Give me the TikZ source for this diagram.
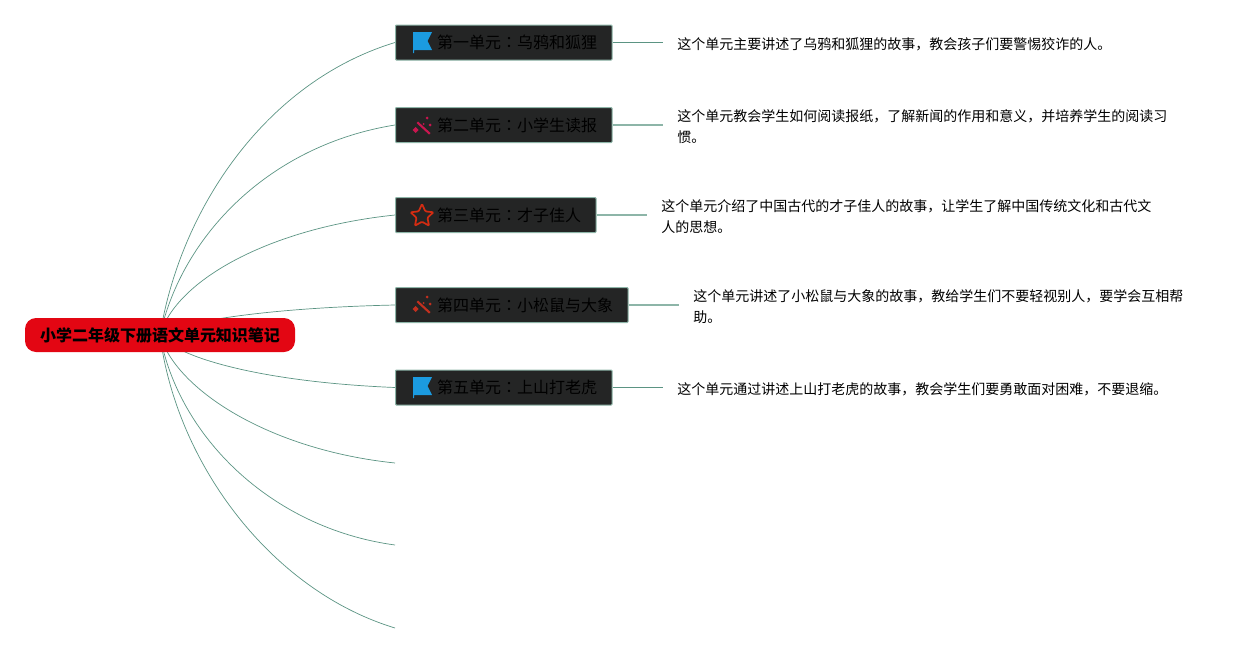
\documentclass[tikz,border=0pt]{standalone}
\usepackage{fontspec}
\setmainfont{Noto Sans CJK SC}
\newfontfamily\unitfont{Noto Sans CJK TC}
\usetikzlibrary{shapes.geometric, positioning, backgrounds}

\definecolor{linkgreen}{HTML}{5B9483}
\definecolor{linklight}{HTML}{8DB5A8}
\definecolor{boxdark}{HTML}{242525}
\definecolor{rootred}{HTML}{E30613}
\definecolor{flagblue}{HTML}{1B9BE0}
\definecolor{wandpink}{HTML}{C9164F}
\definecolor{wandred}{HTML}{C2301F}
\definecolor{starred}{HTML}{D32C12}

\newcommand{\unittext}[1]{\hspace*{26.5pt}\raisebox{-1.5pt}{#1}}

\tikzset{
    flagicon/.pic={
        \fill[flagblue] (-9.5,-9) -- (9.5,-9) -- (5,0) -- (9.5,9) -- (-8.5,9) -- (-8.5,12) -- (-9.5,12) -- cycle;
    },
    wandicon/.pic={
        \fill[#1] (-6,-3) -- (-4.5,-4.5) -- (8,7) -- (6.5,8.5) -- cycle;
        \fill[#1] (-10,4) -- (-7,1) -- (-4,4) -- (-7,7) -- cycle;
        \fill[#1] (4.5,-9.5) -- (6,-8) -- (4.5,-6.5) -- (3,-8) -- cycle;
        \fill[#1] (7.5,-2.5) -- (9,-1) -- (7.5,0.5) -- (6,-1) -- cycle;
        \fill[#1] (1,-3) -- (2,-2) -- (1,-1) -- (0,-2) -- cycle;
    },
    staricon/.pic={
        \node[star, star points=5, star point ratio=2.1, draw=starred, line width=1.7pt, inner sep=0pt, minimum size=24pt, rounded corners=1pt] (-shape) at (0,1) {};
    }
}

\begin{document}
\begin{tikzpicture}[x=1pt, y=-1pt,
    root/.style={draw=none, fill=rootred, rounded corners=11pt, minimum width=270pt, minimum height=34pt, inner sep=0pt, font=\fontsize{16}{20}\selectfont\bfseries},
    unit/.style={draw=linklight, fill=boxdark, line width=1pt, rounded corners=0.8pt, anchor=west, minimum height=35pt, inner xsep=15pt, inner ysep=0pt, text=black, font=\unitfont\fontsize{16}{20}\selectfont},
    desc/.style={align=left, inner xsep=14.7pt, inner ysep=0pt, yshift=-2pt, font=\fontsize{14}{21}\selectfont},
    n/.style={draw=linkgreen, line width=0.7pt},
    m/.style={draw=linklight, line width=1.1pt}]
    \useasboundingbox (0,0) rectangle (1253,653);
    % nodes
    \node[root] (root) at (160,335) {小学二年级下册语文单元知识笔记};
    \node[unit] (unit1) at (395,42.5) {\unittext{第一单元：乌鸦和狐狸}};
    \node[unit] (unit2) at (395,125) {\unittext{第二单元：小学生读报}};
    \node[unit] (unit3) at (395,215) {\unittext{第三单元：才子佳人}};
    \node[unit] (unit4) at (395,305) {\unittext{第四单元：小松鼠与大象}};
    \node[unit] (unit5) at (395,387.5) {\unittext{第五单元：上山打老虎}};
    \node[desc, right=50pt of unit1] (desc1) {这个单元主要讲述了乌鸦和狐狸的故事，教会孩子们要警惕狡诈的人。};
    \node[desc, right=50pt of unit2] (desc2) {这个单元教会学生如何阅读报纸，了解新闻的作用和意义，并培养学生的阅读习\\惯。};
    \node[desc, right=50pt of unit3] (desc3) {这个单元介绍了中国古代的才子佳人的故事，让学生了解中国传统文化和古代文\\人的思想。};
    \node[desc, right=50pt of unit4] (desc4) {这个单元讲述了小松鼠与大象的故事，教给学生们不要轻视别人，要学会互相帮\\助。};
    \node[desc, right=50pt of unit5] (desc5) {这个单元通过讲述上山打老虎的故事，教会学生们要勇敢面对困难，不要退缩。};
    \coordinate (end6) at (395,463);
    \coordinate (end7) at (395,545);
    \coordinate (end8) at (395,628);
    % icons
    \pic at (422.5,41) {flagicon};
    \pic at (422.5,126) {wandicon=wandpink};
    \pic at (422,215) {staricon};
    \pic at (422.5,305) {wandicon=wandred};
    \pic at (422.5,386) {flagicon};
    % edges
    \begin{scope}[on background layer]
        \draw [n] (root.center) .. controls (180,210) and (265,82) .. (unit1.west);
        \draw [n] (root.center) .. controls (182,235) and (270,145) .. (unit2.west);
        \draw [n] (root.center) .. controls (176,280) and (270,228) .. (unit3.west);
        \draw [n] (root.center) .. controls (176,323) and (260,308) .. (unit4.west);
        \draw [n] (root.center) .. controls (176,357) and (260,382) .. (unit5.west);
        \draw [n] (root.center) .. controls (176,390) and (270,450) .. (end6);
        \draw [n] (root.center) .. controls (178,435) and (270,528) .. (end7);
        \draw [n] (root.center) .. controls (176,462) and (270,590) .. (end8);
    \end{scope}
    \foreach \i in {1,5} {
        \draw [n] (unit\i.east) -- (unit\i.east -| desc\i.west);
    }
    \foreach \i in {2,3,4} {
        \draw [m] (unit\i.east) -- (unit\i.east -| desc\i.west);
    }
\end{tikzpicture}
\end{document}
